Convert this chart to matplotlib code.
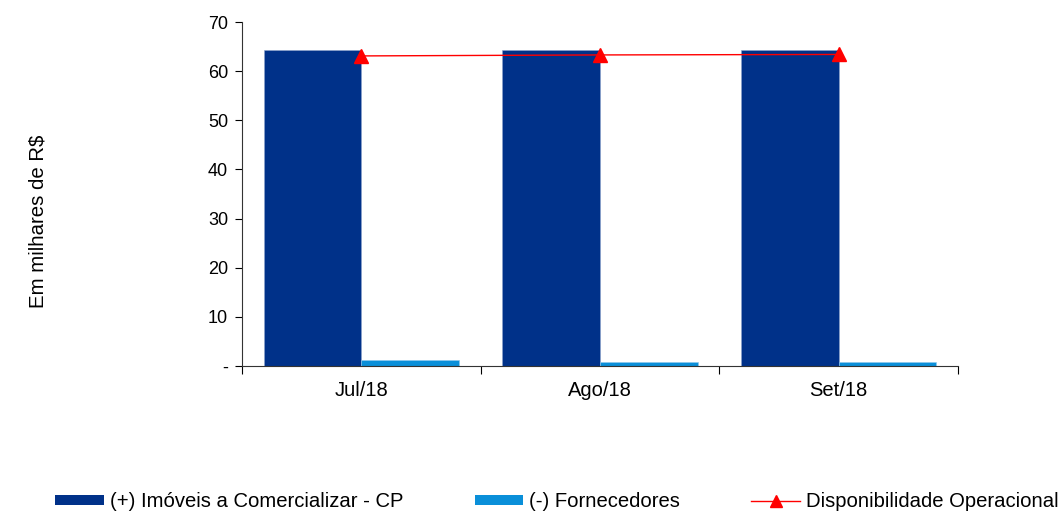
import matplotlib.pyplot as plt
import numpy as np
from matplotlib.lines import Line2D
from matplotlib.patches import Patch

plt.rcParams['font.family'] = ['Liberation Sans', 'DejaVu Sans']

months = ["Jul/18", "Ago/18", "Set/18"]
imoveis = [64.3, 64.3, 64.3]
fornecedores = [1.2, 0.9, 0.9]
disponibilidade = [63.1, 63.3, 63.4]

dark_blue = '#003189'
light_blue = '#0A8FD9'

fig = plt.figure(figsize=(10.63, 5.12), dpi=100)
ax = fig.add_axes([0.2277, 0.2852, 0.6735, 0.6718])

x = np.arange(len(months))
w = 0.41
ax.bar(x - w / 2, imoveis, width=w, color=dark_blue, edgecolor='#8fa5cc', linewidth=0.4, zorder=2)
ax.bar(x + w / 2, fornecedores, width=w, color=light_blue, edgecolor='#8fc8ee', linewidth=0.4, zorder=2)
ax.plot(x, disponibilidade, color='red', linewidth=1, marker='^', markersize=10,
        markerfacecolor='red', markeredgecolor='red', zorder=3)

ax.set_xlim(-0.5, 2.5)
ax.set_ylim(0, 70)
ax.set_yticks(range(0, 71, 10))
ax.set_yticklabels(['-'] + [str(v) for v in range(10, 71, 10)], fontsize=13)

# category labels centered, ticks at the category boundaries
ax.set_xticks(x)
ax.set_xticklabels(months, fontsize=14.5)
ax.tick_params(axis='x', length=0, pad=11)
ax.set_xticks([-0.5, 0.5, 1.5, 2.5], minor=True)
ax.tick_params(axis='x', which='minor', length=6, direction='out', width=0.8)
ax.tick_params(axis='y', length=5, direction='out', width=0.8, pad=5)

for side in ('top', 'right'):
    ax.spines[side].set_visible(False)
for side in ('left', 'bottom'):
    ax.spines[side].set_linewidth(0.8)
    ax.spines[side].set_color('#333333')

fig.text(0.036, 0.568, 'Em milhares de R$', rotation=90, fontsize=14.7, ha='center', va='center')

handles = [
    Patch(facecolor=dark_blue),
    Patch(facecolor=light_blue),
    Line2D([0], [0], color='red', linewidth=1, marker='^', markersize=8),
]
labels = ['(+) Imóveis a Comercializar - CP', '(-) Fornecedores', 'Disponibilidade Operacional']
fig.legend(handles, labels, loc='center', bbox_to_anchor=(0.524, 0.02), ncol=3,
           frameon=False, fontsize=14.6, handlelength=2.4, handleheight=0.4,
           handletextpad=0.3, columnspacing=3.5)

fig.savefig('out.png', dpi=100)
